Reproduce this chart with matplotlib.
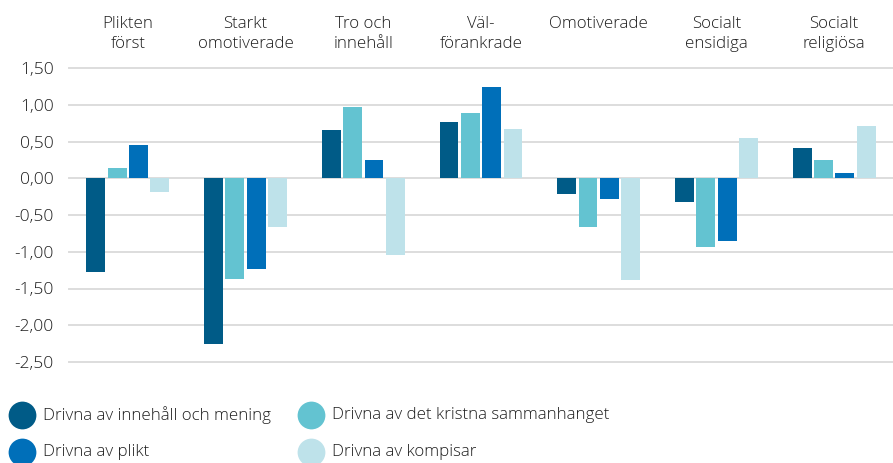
import matplotlib
matplotlib.use("Agg")
import matplotlib.pyplot as plt
from matplotlib.lines import Line2D
import numpy as np

categories = ["Plikten\nförst", "Starkt\nomotiverade", "Tro och\ninnehåll", "Väl-\nförankrade",
              "Omotiverade", "Socialt\nensidiga", "Socialt\nreligiösa"]
series_names = ["Drivna av innehåll och mening", "Drivna av det kristna sammanhanget",
                "Drivna av plikt", "Drivna av kompisar"]
innehall = [-1.27, -2.25, 0.66, 0.77, -0.21, -0.32, 0.41]
kristna = [0.14, -1.37, 0.97, 0.89, -0.66, -0.94, 0.25]
plikt = [0.45, -1.24, 0.25, 1.24, -0.28, -0.85, 0.07]
kompisar = [-0.19, -0.66, -1.04, 0.67, -1.38, 0.55, 0.71]
yticks = [1.5, 1.0, 0.5, 0.0, -0.5, -1.0, -1.5, -2.0, -2.5]
ytick_labels = ["1,50", "1,00", "0,50", "0,00", "-0,50", "-1,00", "-1,50", "-2,00", "-2,50"]

colors = ["#005B87", "#63C3D1", "#006FB9", "#BEE2EA"]
FONT = "Open Sans"
plt.rcParams["font.family"] = [FONT, "DejaVu Sans"]
TXT = "#1e1e1e"

W, H = 893, 463
fig = plt.figure(figsize=(W / 100, H / 100), dpi=100)
left_px, right_px = 69, 893
top_px, bot_px = 68, 362
ax = fig.add_axes([left_px / W, 1 - bot_px / H, (right_px - left_px) / W, (bot_px - top_px) / H])

x = np.arange(len(categories))
bw = 0.16
offsets = [-0.272, -0.091, 0.091, 0.272]
for vals, off, c in zip([innehall, kristna, plikt, kompisar], offsets, colors):
    ax.bar(x + off, vals, width=bw, color=c, zorder=3)

for t in yticks:
    ax.axhline(t, color="#DDDDDD", lw=1.4, zorder=1, clip_on=False)

ax.set_xlim(-0.5, len(categories) - 0.5)
ax.set_ylim(-2.5, 1.5)
ax.set_yticks(yticks)
ax.set_yticklabels(ytick_labels, fontsize=12.5, color=TXT, fontweight="light")
ax.tick_params(axis="y", length=0, pad=11)
ax.set_xticks([])
for s in ax.spines.values():
    s.set_visible(False)

for i, cat in enumerate(categories):
    fig.text((left_px + (i + 0.5) * (right_px - left_px) / len(categories)) / W, 1 - 16 / H, cat,
             ha="center", va="top", fontsize=12.2, color=TXT, linespacing=1.3,
             fontweight="light")

# legend
leg_pos = [(22, 415), (311, 415), (22, 452), (311, 452)]
for (px, py), name, c in zip(leg_pos, series_names, colors):
    fig.add_artist(Line2D([px / W], [1 - py / H], marker="o", markersize=20, color=c,
                          markeredgewidth=0, transform=fig.transFigure, linestyle="none"))
    fig.text((px + 21) / W, 1 - py / H, name, ha="left", va="center", fontsize=12.2,
             color=TXT, fontweight="light")

fig.savefig("out.png", dpi=100)
